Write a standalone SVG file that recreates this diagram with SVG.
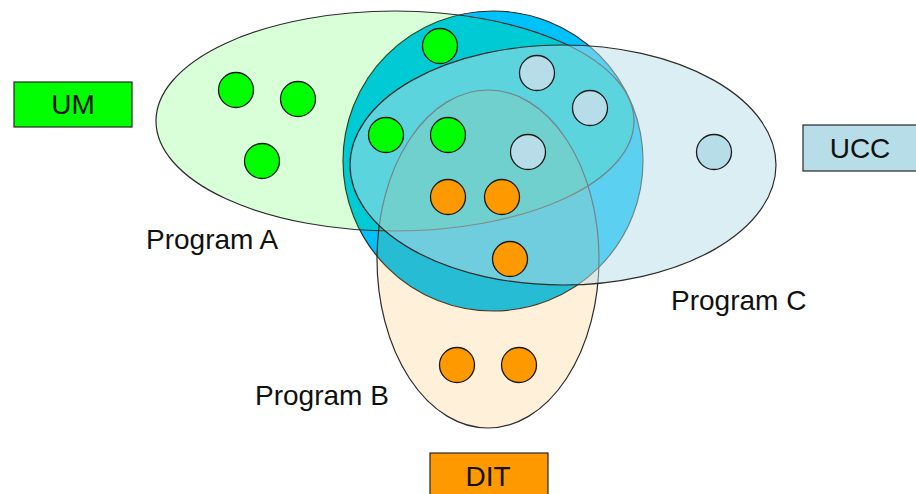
<svg xmlns="http://www.w3.org/2000/svg" width="916" height="494" viewBox="0 0 916 494">
<style>
  .set { stroke: #2b2b2b; stroke-width: 1.2; }
  .dot { stroke: #1a1a1a; stroke-width: 1.3; }
  .um { fill: #00FF00; }
  .ucc { fill: #B7DEE8; }
  .dit { fill: #FF9900; }
  .box { stroke: #262626; stroke-width: 1.2; }
  .lbl { font-family: "Liberation Sans", Arial, sans-serif; font-size: 28px; fill: #111; }
</style>
<rect width="916" height="494" fill="#ffffff"/>
<g id="sets">
  <g id="core-circle"><circle class="set" cx="493" cy="161" r="150" fill="#00C2FA"/></g>
  <g id="program-a"><ellipse class="set" cx="395" cy="121" rx="239" ry="110" fill="#00FF00" fill-opacity="0.15"/></g>
  <g id="program-b"><ellipse class="set" cx="488" cy="259" rx="111" ry="169" fill="#FF9900" fill-opacity="0.15"/></g>
  <g id="program-c"><ellipse class="set" cx="563" cy="165" rx="213" ry="120" fill="#B7DEE8" fill-opacity="0.5"/></g>
</g>
<g id="connectors"></g>
<g id="um-members">
  <circle class="dot um" cx="236" cy="90" r="17.5"/>
  <circle class="dot um" cx="298" cy="99" r="17.5"/>
  <circle class="dot um" cx="262" cy="161" r="17.5"/>
  <circle class="dot um" cx="440" cy="46" r="17.5"/>
  <circle class="dot um" cx="386" cy="135" r="17.5"/>
  <circle class="dot um" cx="448" cy="135" r="17.5"/>
</g>
<g id="ucc-members">
  <circle class="dot ucc" cx="537" cy="73" r="17.5"/>
  <circle class="dot ucc" cx="590" cy="108" r="17.5"/>
  <circle class="dot ucc" cx="528" cy="152" r="17.5"/>
  <circle class="dot ucc" cx="714" cy="152" r="17.5"/>
</g>
<g id="dit-members">
  <circle class="dot dit" cx="448" cy="197" r="17.5"/>
  <circle class="dot dit" cx="502" cy="197" r="17.5"/>
  <circle class="dot dit" cx="510" cy="259" r="17.5"/>
  <circle class="dot dit" cx="457" cy="365" r="17.5"/>
  <circle class="dot dit" cx="519" cy="365" r="17.5"/>
</g>
<g id="label-um">
  <rect class="box um" x="14" y="82" width="118" height="45"/>
  <text class="lbl" x="73" y="114" text-anchor="middle">UM</text>
</g>
<g id="label-ucc">
  <rect class="box ucc" x="803" y="125" width="120" height="46"/>
  <text class="lbl" x="860" y="158" text-anchor="middle">UCC</text>
</g>
<g id="label-dit">
  <rect class="box dit" x="430" y="453" width="118" height="46"/>
  <text class="lbl" x="488" y="486" text-anchor="middle">DIT</text>
</g>
<g id="program-labels">
  <text class="lbl" x="146" y="249">Program A</text>
  <text class="lbl" x="255" y="405">Program B</text>
  <text class="lbl" x="671" y="310">Program C</text>
</g>
</svg>
